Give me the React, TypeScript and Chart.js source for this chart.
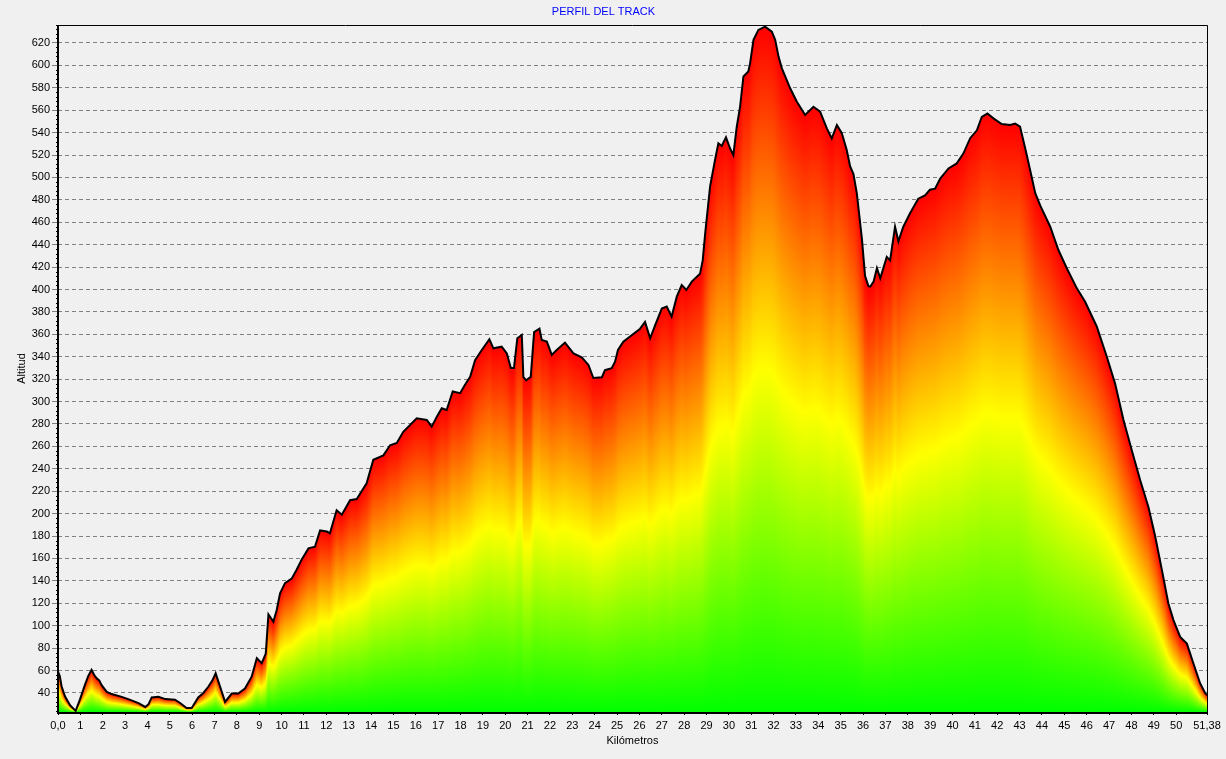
import React, { useEffect, useRef } from "react";
import { Chart, registerables } from "chart.js";

Chart.register(...registerables);

// Distance along the track (km)
const KM: number[] = [
  0.0, 0.08, 0.16, 0.31, 0.54, 0.79, 0.98, 1.2, 1.35, 1.5, 1.62, 1.73, 1.85, 1.95, 2.18, 2.4, 2.85, 3.2, 3.6, 3.9,
  4.05, 4.19, 4.49, 4.8, 5.23, 5.46, 5.75, 5.98, 6.27, 6.5, 6.72, 6.9, 7.05, 7.25, 7.47, 7.77, 8.06, 8.36, 8.66, 8.89,
  9.11, 9.29, 9.41, 9.63, 9.78, 9.93, 10.15, 10.45, 10.67, 10.9, 11.2, 11.49, 11.72, 12.02, 12.16, 12.46, 12.69, 13.06, 13.36, 13.8,
  14.1, 14.55, 14.85, 15.15, 15.44, 16.04, 16.49, 16.71, 16.94, 17.16, 17.38, 17.65, 17.98, 18.2, 18.43, 18.65, 18.95, 19.29, 19.47, 19.84,
  20.07, 20.25, 20.39, 20.54, 20.74, 20.81, 20.93, 21.14, 21.29, 21.53, 21.63, 21.86, 22.08, 22.3, 22.67, 23.05, 23.42, 23.72, 23.94, 24.32,
  24.46, 24.76, 24.91, 25.04, 25.28, 25.58, 26.03, 26.25, 26.48, 26.7, 27.0, 27.22, 27.44, 27.67, 27.89, 28.1, 28.34, 28.71, 28.83, 28.94,
  29.16, 29.38, 29.53, 29.68, 29.87, 30.05, 30.2, 30.35, 30.5, 30.65, 30.87, 30.95, 31.1, 31.32, 31.62, 31.92, 32.07, 32.22, 32.37, 32.74,
  33.04, 33.41, 33.78, 34.08, 34.38, 34.6, 34.83, 35.05, 35.27, 35.42, 35.57, 35.72, 35.95, 36.09, 36.24, 36.32, 36.47, 36.62, 36.77, 37.06,
  37.21, 37.43, 37.58, 37.8, 38.1, 38.47, 38.77, 38.99, 39.22, 39.45, 39.82, 40.19, 40.49, 40.79, 41.09, 41.31, 41.56, 41.83, 42.2, 42.58,
  42.8, 43.02, 43.25, 43.47, 43.7, 43.92, 44.37, 44.74, 45.11, 45.56, 45.93, 46.45, 46.9, 47.27, 47.64, 48.01, 48.39, 48.76, 49.06, 49.36,
  49.65, 49.88, 50.18, 50.48, 50.77, 51.07, 51.3, 51.38,
];

// Altitude (m)
const ALT: number[] = [
  59, 55, 46, 37, 29, 24, 34, 47, 55, 60.5, 56, 53, 51, 47, 41, 39, 36.5, 34, 31, 27.5,
  30, 36, 36.5, 34.5, 34, 31, 26.5, 26.5, 36, 40, 45.5, 51, 57.5, 45.5, 32, 39.5, 39.5, 44, 54.5, 71,
  66.5, 75, 110, 103.6, 114, 129, 138, 142, 150, 159, 169, 170.5, 185, 184, 182.5, 203, 199, 212, 213, 227,
  248, 252, 261, 263, 273, 285, 283.6, 277.6, 286.5, 294, 292.5, 309, 307.5, 315, 322, 337, 346, 355.6, 347.5, 349,
  343, 330, 330, 356.5, 359.5, 322, 319, 322, 362, 365, 355, 353.5, 341.6, 346, 352.6, 343, 339.5, 332.7, 321, 321.7,
  328, 329.7, 335.6, 346, 353.5, 358, 365, 371, 356.5, 368, 383, 384.7, 375.8, 393.6, 404, 399.6, 407, 414, 426, 450,
  492, 515.6, 530.5, 528, 535.8, 526, 520, 545, 563, 590, 594.5, 602, 622.7, 631.6, 634.5, 630, 622.7, 607.8, 597.3, 579.5,
  567.6, 555.7, 563, 558.6, 543.8, 534.8, 546.8, 539.4, 524.5, 510, 503, 486, 445, 412, 403, 402.5, 407, 419, 410, 429,
  426, 456, 443, 456, 468, 481, 484, 489, 490, 499, 508, 512.5, 521.5, 535, 542, 554, 557, 552.7, 547.7, 546.8,
  548, 545.3, 526, 506.7, 486, 475, 456, 435, 419, 401, 389, 367, 340, 316, 284, 257, 230, 206, 180, 150,
  120, 105, 90, 84, 66.5, 48.7, 39.7, 38,
];

const Y_TICKS: number[] = [
  40, 60, 80, 100, 120, 140, 160, 180, 200, 220, 240, 260, 280, 300, 320, 340, 360, 380, 400, 420,
  440, 460, 480, 500, 520, 540, 560, 580, 600, 620,
];

const X_TICKS: number[] = [
  0, 1, 2, 3, 4, 5, 6, 7, 8, 9, 10, 11, 12, 13, 14, 15, 16, 17, 18, 19, 20, 21, 22, 23, 24, 25,
  26, 27, 28, 29, 30, 31, 32, 33, 34, 35, 36, 37, 38, 39, 40, 41, 42, 43, 44, 45, 46, 47, 48, 49, 50, 51.38,
];

const X_TICK_LABELS: string[] = [
  "0,0", "1", "2", "3", "4", "5", "6", "7", "8", "9", "10", "11", "12", "13", "14", "15", "16", "17", "18", "19",
  "20", "21", "22", "23", "24", "25", "26", "27", "28", "29", "30", "31", "32", "33", "34", "35", "36", "37", "38", "39",
  "40", "41", "42", "43", "44", "45", "46", "47", "48", "49", "50", "51,38",
];

const TITLE = "PERFIL DEL TRACK";
const X_TITLE = "Kilómetros";
const Y_TITLE = "Altitud";
const X_MIN = 0;
const X_MAX = 51.38;
const Y_MIN = 23;
const Y_MAX = 636;

const FONT = "'Liberation Sans', Arial, sans-serif";

const profileFill = {
  id: "profileFill",
  beforeDatasetsDraw(chart: any) {
    const meta = chart.getDatasetMeta(0);
    const pts = meta.data as any[];
    if (!pts || pts.length < 2) return;
    const ctx: CanvasRenderingContext2D = chart.ctx;
    const ca = chart.chartArea;
    const bottom = ca.bottom;
    ctx.save();
    ctx.beginPath();
    ctx.rect(ca.left, ca.top, ca.right - ca.left, ca.bottom - ca.top);
    ctx.clip();
    let j = 0;
    for (let px = Math.floor(ca.left); px < Math.ceil(ca.right); px++) {
      const cx = px + 0.5;
      while (j < pts.length - 2 && pts[j + 1].x < cx) j++;
      const a = pts[j];
      const b = pts[j + 1];
      const t = b.x === a.x ? 0 : Math.min(1, Math.max(0, (cx - a.x) / (b.x - a.x)));
      const top = a.y + (b.y - a.y) * t;
      if (bottom - top <= 0) continue;
      const g = ctx.createLinearGradient(0, bottom, 0, top);
      g.addColorStop(0, "#00ff00");
      g.addColorStop(0.5, "#ffff00");
      g.addColorStop(1, "#ff0000");
      ctx.fillStyle = g;
      ctx.fillRect(px, top, 1, bottom - top);
    }
    ctx.restore();
  },
};

const frameAndMinor = {
  id: "frameAndMinor",
  afterDraw(chart: any) {
    const ctx: CanvasRenderingContext2D = chart.ctx;
    const ca = chart.chartArea;
    const xs = chart.scales.x;
    const ys = chart.scales.y;
    ctx.save();
    ctx.strokeStyle = "#000";
    // minor ticks on x axis
    ctx.lineWidth = 1;
    ctx.beginPath();
    for (let k = 0; k <= 257; k++) {
      const v = k * 0.2;
      if (v > X_MAX) break;
      if (k % 5 === 0) continue;
      const px = Math.round(xs.getPixelForValue(v)) + 0.5;
      ctx.moveTo(px, ca.bottom);
      ctx.lineTo(px, ca.bottom + 2);
    }
    // minor ticks on y axis
    for (let v = 24; v <= Y_MAX; v += 4) {
      if (v % 20 === 0) continue;
      const py = Math.round(ys.getPixelForValue(v)) + 0.5;
      ctx.moveTo(ca.left - 2, py);
      ctx.lineTo(ca.left, py);
    }
    ctx.stroke();
    // frame
    ctx.lineWidth = 1;
    ctx.beginPath();
    ctx.moveTo(ca.left, ca.top + 0.5);
    ctx.lineTo(ca.right + 0.5, ca.top + 0.5);
    ctx.lineTo(ca.right + 0.5, ca.bottom);
    ctx.stroke();
    ctx.lineWidth = 2;
    ctx.beginPath();
    ctx.moveTo(ca.left, ca.top);
    ctx.lineTo(ca.left, ca.bottom + 1);
    ctx.lineTo(ca.right + 1, ca.bottom + 1);
    ctx.stroke();
    ctx.restore();
  },
};

export default function App() {
  const ref = useRef<HTMLCanvasElement | null>(null);

  useEffect(() => {
    if (!ref.current) return;
    Chart.defaults.font.family = FONT;
    Chart.defaults.font.size = 11;
    Chart.defaults.color = "#000";
    const chart = new Chart(ref.current, {
      type: "line",
      data: {
        datasets: [
          {
            data: KM.map((k, i) => ({ x: k, y: ALT[i] })),
            borderColor: "#000",
            borderWidth: 2,
            pointRadius: 0,
            tension: 0,
            fill: false,
          },
        ],
      },
      options: {
        animation: false,
        responsive: false,
        layout: { padding: { left: 0, right: 19, top: 0, bottom: 0 } },
        plugins: {
          legend: { display: false },
          tooltip: { enabled: false },
          title: {
            display: true,
            text: TITLE,
            color: "#0000ff",
            font: { family: FONT, size: 11, weight: "normal", lineHeight: "13px" },
            padding: { top: 5, bottom: 7 },
          },
        },
        scales: {
          x: {
            type: "linear",
            min: X_MIN,
            max: X_MAX,
            afterBuildTicks: (scale: any) => {
              scale.ticks = X_TICKS.map((v) => ({ value: v }));
            },
            afterFit: (scale: any) => {
              scale.height = 47;
            },
            ticks: {
              autoSkip: false,
              maxRotation: 0,
              minRotation: 0,
              padding: 4,
              color: "#000",
              font: { family: FONT, size: 11 },
              callback: (_v: any, i: number) => X_TICK_LABELS[i],
            },
            grid: {
              display: true,
              drawOnChartArea: false,
              drawTicks: true,
              tickLength: 3,
              tickColor: "#000",
              color: "#000",
            },
            border: { display: false },
            title: {
              display: true,
              text: X_TITLE,
              color: "#000",
              font: { family: FONT, size: 11 },
              padding: { top: 0, bottom: 11 },
            },
          },
          y: {
            type: "linear",
            min: Y_MIN,
            max: Y_MAX,
            afterBuildTicks: (scale: any) => {
              scale.ticks = Y_TICKS.map((v) => ({ value: v }));
            },
            afterFit: (scale: any) => {
              scale.width = 58;
            },
            ticks: {
              padding: 2,
              color: "#000",
              font: { family: FONT, size: 11 },
            },
            grid: {
              display: true,
              color: "#808080",
              lineWidth: 1,
              drawTicks: true,
              tickLength: 6,
              tickColor: "#808080",
            },
            border: { display: false, dash: [4, 3] },
            title: {
              display: true,
              text: Y_TITLE,
              color: "#000",
              font: { family: FONT, size: 11 },
              padding: { top: 15, bottom: 0 },
            },
          },
        },
      } as any,
      plugins: [profileFill, frameAndMinor],
    });
    return () => chart.destroy();
  }, []);

  return (
    <div
      style={{
        position: "fixed",
        left: 0,
        top: 0,
        width: 1226,
        height: 759,
        background: "#f0f0f0",
      }}
    >
      <canvas ref={ref} width={1226} height={759} style={{ display: "block" }} />
    </div>
  );
}
